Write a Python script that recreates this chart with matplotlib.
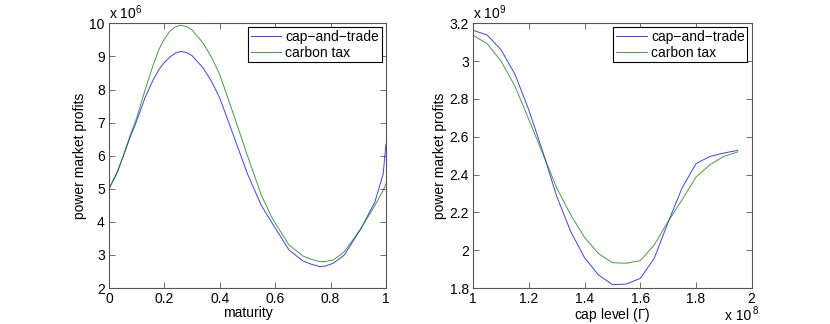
import matplotlib
matplotlib.use("Agg")
import matplotlib.pyplot as plt

plt.rcParams['font.family'] = ['Liberation Sans', 'DejaVu Sans']
plt.rcParams['font.size'] = 10
plt.rcParams['mathtext.fontset'] = 'custom'
plt.rcParams['mathtext.rm'] = 'Liberation Sans'

# left panel: profits vs maturity (units of 1e6)
maturity = [0.0, 0.03, 0.05, 0.076, 0.1, 0.13, 0.16, 0.18, 0.2, 0.22, 0.24, 0.26,
            0.28, 0.3, 0.34, 0.37, 0.4, 0.45, 0.5, 0.55, 0.59, 0.65, 0.7, 0.73,
            0.76, 0.78, 0.81, 0.85, 0.91, 0.96, 0.99, 1.0]
cap_trade_m = [5.0, 5.5, 5.95, 6.55, 7.05, 7.75, 8.3, 8.6, 8.82, 8.98, 9.1, 9.15,
               9.12, 9.02, 8.65, 8.25, 7.74, 6.6, 5.45, 4.5, 3.95, 3.15, 2.82, 2.72,
               2.65, 2.66, 2.75, 3.0, 3.8, 4.6, 5.45, 6.35]
carbon_tax_m = [5.0, 5.5, 5.95, 6.6, 7.14, 7.98, 8.75, 9.2, 9.53, 9.76, 9.9, 9.94,
                9.9, 9.8, 9.4, 8.98, 8.45, 7.24, 6.0, 4.81, 4.1, 3.3, 2.97, 2.87,
                2.8, 2.8, 2.85, 3.1, 3.8, 4.5, 4.95, 5.15]

# right panel: profits vs cap level (x in 1e8, y in 1e9)
cap_level = [1.0, 1.05, 1.1, 1.15, 1.2, 1.25, 1.3, 1.35, 1.4, 1.45,
             1.5, 1.55, 1.6, 1.65, 1.7, 1.75, 1.8, 1.85, 1.9, 1.95]
cap_trade_c = [3.163, 3.138, 3.06, 2.93, 2.74, 2.52, 2.284, 2.099, 1.96, 1.869,
               1.818, 1.821, 1.851, 1.957, 2.148, 2.329, 2.458, 2.496, 2.514, 2.528]
carbon_tax_c = [3.136, 3.092, 3.0, 2.867, 2.69, 2.51, 2.329, 2.187, 2.067, 1.982,
                1.934, 1.931, 1.945, 2.028, 2.152, 2.267, 2.387, 2.452, 2.496, 2.52]

blue = '#0000ff'
green = '#008000'
frame = '#555555'

fig = plt.figure(figsize=(8.3, 3.24), dpi=100)
ax1 = fig.add_axes([0.1313, 0.111, 0.3337, 0.817])
ax2 = fig.add_axes([0.5702, 0.111, 0.3354, 0.817])

def style(ax):
    for s in ax.spines.values():
        s.set_color(frame)
        s.set_linewidth(0.8)
    ax.tick_params(direction='in', top=True, right=True, length=4,
                   width=0.6, color=frame, labelsize=10, pad=3)

ax1.plot(maturity, cap_trade_m, color=blue, lw=0.7, alpha=0.75, label='cap\u2212and\u2212trade')
ax1.plot(maturity, carbon_tax_m, color=green, lw=0.7, alpha=0.75, label='carbon tax')
ax1.set_xlim(0, 1)
ax1.set_ylim(2, 10)
ax1.set_xticks([0, 0.2, 0.4, 0.6, 0.8, 1])
ax1.set_xticklabels(['0', '0.2', '0.4', '0.6', '0.8', '1'])
ax1.set_yticks(range(2, 11))
ax1.set_xlabel('maturity', labelpad=0)
ax1.set_ylabel('power market profits', labelpad=2)
ax1.text(0.0, 1.005, r'x 10$^{6}$', transform=ax1.transAxes, ha='left', va='bottom', fontsize=10)
style(ax1)

ax2.plot(cap_level, cap_trade_c, color=blue, lw=0.7, alpha=0.75, label='cap\u2212and\u2212trade')
ax2.plot(cap_level, carbon_tax_c, color=green, lw=0.7, alpha=0.75, label='carbon tax')
ax2.set_xlim(1, 2)
ax2.set_ylim(1.8, 3.2)
ax2.set_xticks([1, 1.2, 1.4, 1.6, 1.8, 2])
ax2.set_xticklabels(['1', '1.2', '1.4', '1.6', '1.8', '2'])
ax2.set_yticks([1.8, 2, 2.2, 2.4, 2.6, 2.8, 3, 3.2])
ax2.set_yticklabels(['1.8', '2', '2.2', '2.4', '2.6', '2.8', '3', '3.2'])
ax2.set_xlabel(r'cap level ($\Gamma$)', labelpad=0)
ax2.set_ylabel('power market profits', labelpad=2)
ax2.text(0.0, 1.005, r'x 10$^{9}$', transform=ax2.transAxes, ha='left', va='bottom', fontsize=10)
# multiplier below the x axis, drawn as two pieces so it clears the tick label
ax2.text(1.0, -0.121, 'x 10', transform=ax2.transAxes, ha='right', va='baseline', fontsize=10)
ax2.text(1.003, -0.098, '8', transform=ax2.transAxes, ha='left', va='baseline', fontsize=7)
style(ax2)

for ax in (ax1, ax2):
    leg = ax.legend(loc='upper right', fancybox=False, framealpha=1, borderpad=0.2,
                    handlelength=2.2, handletextpad=0.3, labelspacing=0.1,
                    borderaxespad=0.3, fontsize=10)
    leg.get_frame().set_edgecolor('black')
    leg.get_frame().set_linewidth(0.8)

fig.savefig('out.png', dpi=100)
